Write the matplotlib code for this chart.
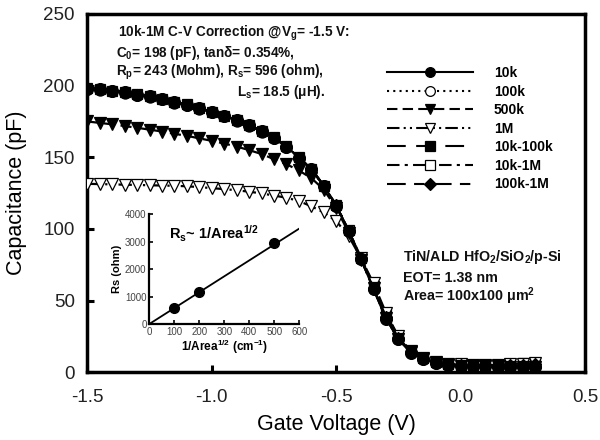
import matplotlib
matplotlib.use("Agg")
import matplotlib.pyplot as plt
from matplotlib.lines import Line2D

plt.rcParams['font.family'] = ['Liberation Sans', 'DejaVu Sans']
plt.rcParams['mathtext.default'] = 'regular'

# ---------------- data ----------------
gate_v = [-1.50, -1.45, -1.40, -1.35, -1.30, -1.25, -1.20, -1.15, -1.10, -1.05,
          -1.00, -0.95, -0.90, -0.85, -0.80, -0.75, -0.70, -0.65, -0.60, -0.55,
          -0.50, -0.45, -0.40, -0.35, -0.30, -0.25, -0.20, -0.15, -0.10, -0.05,
          0.00, 0.05, 0.10, 0.15, 0.20, 0.25, 0.30]

c_10k = [198.0, 197.5, 196.5, 195.3, 193.8, 192.5, 190.8, 188.5, 186.8, 184.2,
         181.8, 179.0, 176.0, 172.5, 168.3, 163.8, 157.5, 149.8, 141.8, 130.2,
         116.3, 98.5, 79.1, 58.0, 37.5, 23.0, 13.8, 9.1, 6.5, 5.2,
         4.6, 4.3, 4.1, 4.0, 3.9, 3.9, 3.8]

c_100k = [197.6, 197.1, 196.1, 194.9, 193.4, 192.1, 190.4, 188.1, 186.4, 183.8,
          181.4, 178.6, 175.6, 172.1, 167.9, 163.4, 157.1, 149.4, 141.4, 129.9,
          116.0, 98.3, 79.0, 58.2, 37.8, 23.2, 14.0, 9.3, 6.7, 5.4,
          4.8, 4.5, 4.3, 4.2, 4.2, 4.2, 4.2]

c_500k = [175.0, 174.0, 173.0, 171.8, 170.6, 169.3, 168.0, 166.4, 165.0, 163.2,
          161.5, 159.6, 157.5, 155.0, 152.3, 148.7, 145.2, 140.8, 135.5, 127.5,
          114.5, 97.5, 78.5, 58.5, 38.0, 23.5, 14.0, 9.3, 6.6, 5.3,
          4.7, 4.4, 4.2, 4.1, 4.0, 4.0, 3.9]

c_1m = [131.5, 131.3, 131.1, 130.9, 130.7, 130.5, 130.3, 130.1, 129.8, 129.2,
        128.5, 127.8, 127.0, 126.0, 124.8, 123.3, 121.8, 119.5, 115.8, 111.5,
        105.5, 95.0, 79.5, 62.0, 41.5, 25.0, 15.0, 10.0, 7.3, 6.0,
        5.5, 5.3, 5.2, 5.3, 5.6, 6.0, 6.5]

c_10k_100k = [198.2, 197.6, 196.6, 195.4, 193.9, 192.6, 190.9, 188.6, 186.9, 184.3,
              181.9, 179.1, 176.1, 172.6, 168.4, 163.9, 157.6, 149.9, 141.9, 130.3,
              116.4, 98.6, 79.2, 58.3, 37.8, 23.2, 14.0, 9.3, 6.7, 5.4,
              4.8, 4.5, 4.3, 4.3, 4.3, 4.3, 4.3]

c_10k_1m = [198.1, 197.6, 196.6, 195.4, 193.9, 192.6, 190.9, 188.6, 186.9, 184.3,
            181.9, 179.1, 176.1, 172.6, 168.4, 163.9, 157.6, 149.9, 141.9, 130.3,
            116.5, 99.0, 80.0, 60.5, 40.5, 24.5, 14.8, 9.8, 7.0, 5.7,
            5.2, 5.0, 5.0, 5.2, 5.6, 6.2, 6.8]

c_100k_1m = [198.0, 197.5, 196.5, 195.3, 193.8, 192.5, 190.8, 188.5, 186.8, 184.2,
             181.8, 179.0, 176.0, 172.5, 168.3, 163.8, 157.5, 149.8, 141.8, 130.2,
             116.4, 98.8, 79.6, 59.0, 38.8, 24.0, 14.4, 9.6, 6.9, 5.6,
             5.0, 4.8, 4.7, 4.8, 5.0, 5.4, 5.9]

inset_x = [100, 200, 500]
inset_rs = [600, 1150, 2950]
fit_x = [0, 600]
fit_rs = [0, 3480]

series = [
    ("10k", c_10k, '-', 'o', 'black'),
    ("100k", c_100k, (0, (1, 2)), 'o', 'white'),
    ("500k", c_500k, (0, (5, 2.5)), 'v', 'black'),
    ("1M", c_1m, (0, (6, 2, 1, 2, 1, 2)), 'v', 'white'),
    ("10k-100k", c_10k_100k, (0, (9, 5)), 's', 'black'),
    ("10k-1M", c_10k_1m, (0, (6, 2.5, 1.5, 2.5)), 's', 'white'),
    ("100k-1M", c_100k_1m, (0, (9, 4, 5, 4)), 'D', 'black'),
]
zorders = [10, 3, 6, 5, 4, 2, 7]
msizes = [8.5, 8.0, 8.0, 8.0, 6.0, 6.5, 6.0]

# ---------------- figure ----------------
fig = plt.figure(figsize=(6.0, 4.4), dpi=100)
ax = fig.add_axes([0.1457, 0.1539, 0.8293, 0.8143])

for (label, vals, ls, mk, fc), z, ms in zip(series, zorders, msizes):
    ax.plot(gate_v, vals, linestyle=ls, color='black', linewidth=1.6,
            marker=mk, markersize=ms, markerfacecolor=fc,
            markeredgecolor='black', markeredgewidth=0.9, label=label,
            zorder=z)

ax.set_xlim(-1.5, 0.5)
ax.set_ylim(0, 250)
ax.set_xticks([-1.5, -1.0, -0.5, 0.0, 0.5])
ax.set_xticklabels(['-1.5', '-1.0', '-0.5', '0.0', '0.5'])
ax.set_yticks([0, 50, 100, 150, 200, 250])
ax.tick_params(direction='in', length=5, width=2.2, labelsize=13.5,
               colors='black', labelcolor='#222222')
ax.tick_params(axis='y', pad=9)
ax.tick_params(axis='x', pad=12)
for sp in ax.spines.values():
    sp.set_linewidth(2.5)
ax.set_xlabel('Gate Voltage (V)', fontsize=15.5, labelpad=6)
ax.set_ylabel('Capacitance (pF)', fontsize=15.5, labelpad=12)

leg_handles = []
for (label, vals, ls, mk, fc) in series:
    leg_handles.append(Line2D([], [], linestyle=ls, color='black', linewidth=1.5,
                              marker=mk, markersize=7 if mk != 'D' else 6,
                              markerfacecolor=fc, markeredgecolor='black',
                              markeredgewidth=0.9))
ax.legend(leg_handles, [s[0] for s in series], loc='upper left',
          bbox_to_anchor=(0.602, 0.855), frameon=False,
          prop={'weight': 'bold', 'size': 10},
          handlelength=6.2, handletextpad=1.5, labelspacing=0.33,
          borderpad=0, borderaxespad=0)

# annotation text (top-left)
tkw = dict(transform=fig.transFigure, fontsize=9.8, fontweight='bold',
           va='center', ha='left', color='#111111')
fig.text(118/600, 1 - 33/440, '10k-1M C-V Correction @V$_g$= -1.5 V:', **tkw)
fig.text(116/600, 1 - 53/440, 'C$_0$= 198 (pF), tanδ= 0.354%,', **tkw)
fig.text(116/600, 1 - 72/440, 'R$_p$= 243 (Mohm), R$_s$= 596 (ohm),', **tkw)
fig.text(237/600, 1 - 92/440, 'L$_s$= 18.5 (μH).', **tkw)

# device text (right)
dkw = dict(transform=fig.transFigure, fontsize=10.3, fontweight='bold',
           va='center', ha='left', color='#111111')
fig.text(403/600, 1 - 257/440, 'TiN/ALD HfO$_2$/SiO$_2$/p-Si', **dkw)
fig.text(403/600, 1 - 278/440, 'EOT= 1.38 nm', **dkw)
fig.text(403/600, 1 - 296/440, 'Area= 100x100 μm$^2$', **dkw)

# ---------------- inset ----------------
ins = fig.add_axes([149.3/600, 1 - 324/440, 150/600, 109.7/440])
ins.plot(fit_x, fit_rs, color='black', linewidth=1.3)
ins.plot(inset_x, inset_rs, linestyle='none', marker='o', markersize=7,
         color='black')
ins.set_xlim(0, 600)
ins.set_ylim(0, 4000)
ins.set_xticks([0, 100, 200, 300, 400, 500, 600])
ins.set_yticks([0, 1000, 2000, 3000, 4000])
ins.spines['top'].set_visible(False)
ins.spines['right'].set_visible(False)
for s in ('left', 'bottom'):
    ins.spines[s].set_linewidth(1.6)
ins.tick_params(direction='in', length=3, width=1.2, labelsize=7,
                labelcolor='#444444', pad=2)
ins.set_ylabel('Rs (ohm)', fontsize=8, fontweight='bold', labelpad=2)
ins.set_xlabel('1/Area$^{1/2}$ (cm$^{-1}$)', fontsize=8.5, fontweight='bold',
               labelpad=1)
ins.text(0.13, 0.82, 'R$_s$~ 1/Area$^{1/2}$', transform=ins.transAxes,
         fontsize=10.5, fontweight='bold', va='center', ha='left')
ins.patch.set_alpha(0)

fig.savefig('out.png', dpi=100)
